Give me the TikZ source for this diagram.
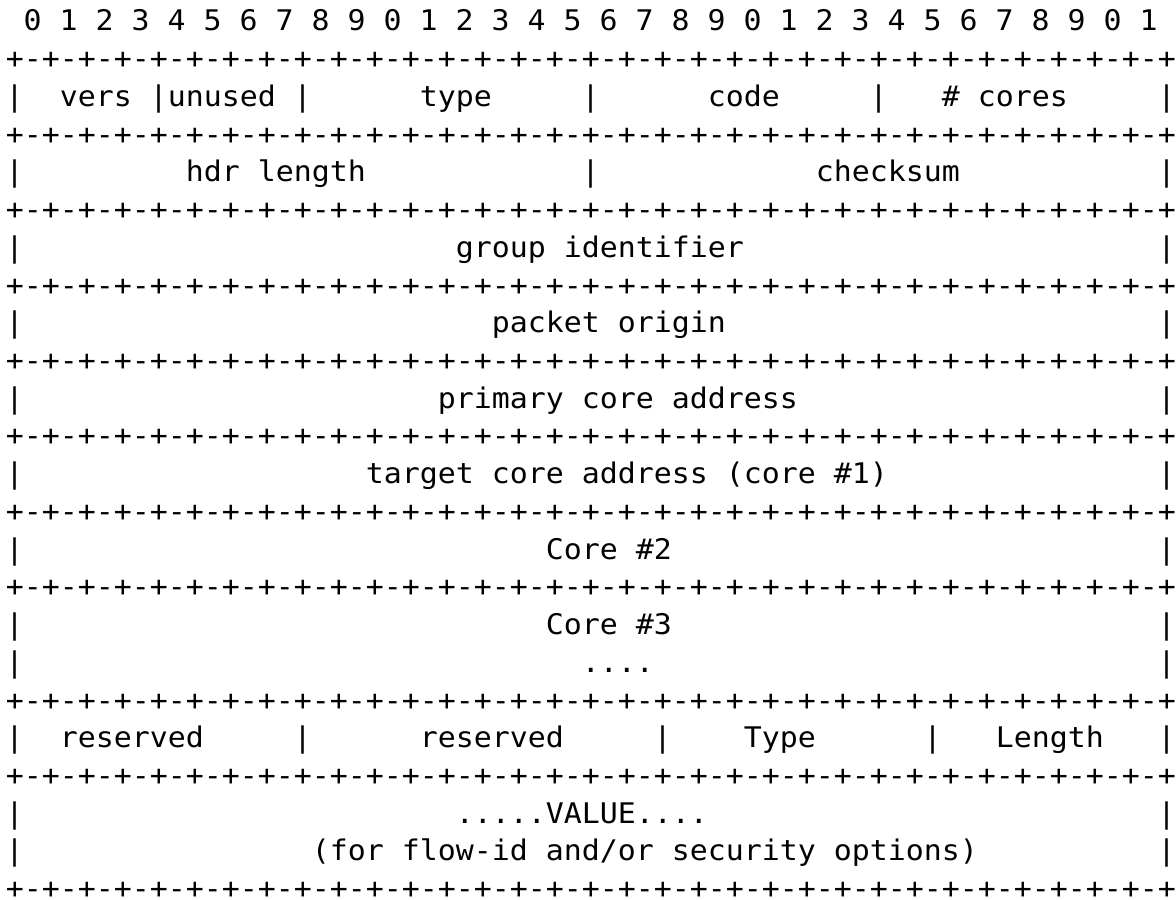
\documentclass[tikz,border=0pt]{standalone}
\usepackage{fontspec}
\newfontfamily\pktfont[FakeStretch=1.0527]{DejaVu Sans Mono}
\newcommand\pktrule{+-+-+-+-+-+-+-+-+-+-+-+-+-+-+-+-+-+-+-+-+-+-+-+-+-+-+-+-+-+-+-+-+}
\frenchspacing
\begin{document}
\begin{tikzpicture}[x=9pt,y=-18.865pt,
  every node/.style={inner sep=0pt,font=\pktfont\fontsize{14.2pt}{17pt}\selectfont},
  ch/.style={anchor=base},
  lbl/.style={anchor=base west}]
  \useasboundingbox (-0.81,0.18) rectangle (64.5238,24.034);
  \fill[white] (-0.81,0.18) rectangle (64.5238,24.034);
  \foreach \i in {0,...,31} {
    \pgfmathtruncatemacro\d{mod(\i,10)}
    \node[ch] (bit\i) at ({2*\i+1},1) {\d};
  }
  \foreach \r in {2,4,6,8,10,12,14,16,19,21,24}
    \node[lbl] (sep\r) at (-0.5,\r) {\pktrule};
  \foreach \r/\cols in {3/{0,8,16,32,48,64},5/{0,32,64},7/{0,64},9/{0,64},
      11/{0,64},13/{0,64},15/{0,64},17/{0,64},18/{0,64},
      20/{0,16,36,51,64},22/{0,64},23/{0,64}}
    \foreach \c in \cols
      \node[ch] (bar\r-\c) at (\c,\r) {|};
  \node[lbl] (vers) at (2.5,3) {vers};
  \node[lbl] (unused) at (8.5,3) {unused};
  \node[lbl] (type) at (22.5,3) {type};
  \node[lbl] (code) at (38.5,3) {code};
  \node[lbl] (cores) at (51.5,3) {\# cores};
  \node[lbl] (hdrlen) at (9.5,5) {hdr length};
  \node[lbl] (cksum) at (44.5,5) {checksum};
  \node[lbl] (group) at (24.5,7) {group identifier};
  \node[lbl] (origin) at (26.5,9) {packet origin};
  \node[lbl] (primary) at (23.5,11) {primary core address};
  \node[lbl] (target) at (19.5,13) {target core address (core \#1)};
  \node[lbl] (core2) at (29.5,15) {Core \#2};
  \node[lbl] (core3) at (29.5,17) {Core \#3};
  \node[lbl] (dots) at (31.5,18) {....};
  \node[lbl] (res1) at (2.5,20) {reserved};
  \node[lbl] (res2) at (22.5,20) {reserved};
  \node[lbl] (tlvtype) at (40.5,20) {Type};
  \node[lbl] (tlvlen) at (54.5,20) {Length};
  \node[lbl] (value) at (24.5,22) {.....VALUE....};
  \node[lbl] (note) at (16.5,23) {(for flow-id and/or security options)};
\end{tikzpicture}
\end{document}
